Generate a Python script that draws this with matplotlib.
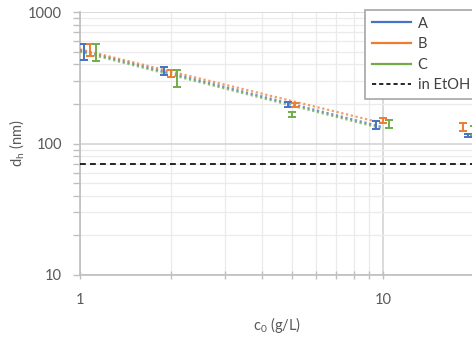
import numpy as np
import matplotlib
matplotlib.use("Agg")
import matplotlib.pyplot as plt
from matplotlib.ticker import LogLocator, NullFormatter
from matplotlib.lines import Line2D

plt.rcParams['font.family'] = ['Lato', 'DejaVu Sans']
plt.rcParams['mathtext.fontset'] = 'custom'
plt.rcParams['mathtext.rm'] = 'Lato'
plt.rcParams['mathtext.it'] = 'Lato:italic'

# concentration (g/L), hydrodynamic diameter (nm) and its error for each sample
conc_a = [1.03, 1.89, 4.86, 9.5, 19.1]
dh_a = [500, 358, 198, 139, 115]
err_a = [70, 25, 8, 10, 3]

conc_b = [1.08, 2.0, 5.13, 10.0, 18.4]
dh_b = [520, 340, 196, 150, 133]
err_b = [55, 22, 8, 7, 9]

conc_c = [1.13, 2.09, 5.0, 10.5, 19.9]
dh_c = [500, 315, 166, 141, 127]
err_c = [75, 45, 7, 9, 10]

etoh_dh = 70

names = ['A', 'B', 'C']
colors = ['#4472C4', '#ED7D31', '#70AD47']
series = [(conc_a, dh_a, err_a), (conc_b, dh_b, err_b), (conc_c, dh_c, err_c)]

fig = plt.figure(figsize=(4.72, 3.40), dpi=100)
ax = fig.add_axes([80 / 472, 65 / 340, 392 / 472, 263 / 340])
ax.set_xscale('log')
ax.set_yscale('log')
ax.set_xlim(1, 10 ** (392 / 303))
ax.set_ylim(10, 1000)

# grid
ax.xaxis.set_minor_locator(LogLocator(base=10, subs=np.arange(2, 10)))
ax.yaxis.set_minor_locator(LogLocator(base=10, subs=np.arange(2, 10)))
ax.grid(which='minor', color='#EBEBEB', linewidth=0.9, zorder=0)
ax.grid(which='major', color='#D4D4D4', linewidth=1.2, zorder=0)
ax.set_axisbelow(True)

for name, col, (x, y, e) in zip(names, colors, series):
    x = np.asarray(x, float)
    y = np.asarray(y, float)
    ax.errorbar(x, y, yerr=e, fmt='none', ecolor=col, elinewidth=1.4,
                capsize=3, capthick=1.4, zorder=4, clip_on=False)
    # power-law trend over the 1-10 g/L range
    sel = x <= 11
    k, b = np.polyfit(np.log10(x[sel]), np.log10(y[sel]), 1)
    xf = np.array([1.0, 10.0])
    ax.plot(xf, 10 ** (b + k * np.log10(xf)), linestyle=(0, (1, 1.2)),
            color=col, linewidth=1.6, alpha=0.75, zorder=3)

ax.axhline(etoh_dh, color='black', linestyle=(0, (3.5, 2.5)), linewidth=1.2, zorder=3)

# axes styling
for s in ['top', 'right']:
    ax.spines[s].set_visible(False)
for s in ['left', 'bottom']:
    ax.spines[s].set_color('#BFBFBF')
    ax.spines[s].set_linewidth(1.2)

ax.set_yticks([10, 100, 1000])
ax.set_yticklabels(['10', '100', '1000'])
ax.set_xticks([1, 10])
ax.set_xticklabels(['1', '10'])
ax.xaxis.set_minor_formatter(NullFormatter())
ax.yaxis.set_minor_formatter(NullFormatter())
ax.tick_params(axis='y', which='both', direction='out', color='#BFBFBF',
               labelcolor='#595959', labelsize=10.5, length=5, width=1, pad=8)
ax.tick_params(axis='x', which='both', direction='inout', color='#BFBFBF',
               labelcolor='#595959', labelsize=10.5, length=6, width=1, pad=10)

fig.text(17 / 472, 1 - 143 / 340, r'd$_\mathrm{h}$ (nm)', rotation=90,
         ha='center', va='center', fontsize=10.5, color='#595959')
fig.text(277 / 472, 1 - 325 / 340, r'c$_\mathrm{0}$ (g/L)',
         ha='center', va='center', fontsize=10.5, color='#595959')

handles = [Line2D([], [], color=c, linewidth=1.6) for c in colors]
handles.append(Line2D([], [], color='black', linestyle=(0, (2.5, 1.8)), linewidth=1.2))
leg = fig.legend(handles, names + ['in EtOH'], loc='upper left',
                 bbox_to_anchor=(365 / 472, 1 - 10 / 340), frameon=True,
                 fancybox=False, framealpha=1, edgecolor='#A6A6A6',
                 fontsize=10.5, handlelength=2.7, handletextpad=0.45,
                 labelspacing=0.45, borderpad=0.45, borderaxespad=0)
for t in leg.get_texts():
    t.set_color('#404040')
leg.get_frame().set_linewidth(1.2)

fig.savefig('out.png', dpi=100)
